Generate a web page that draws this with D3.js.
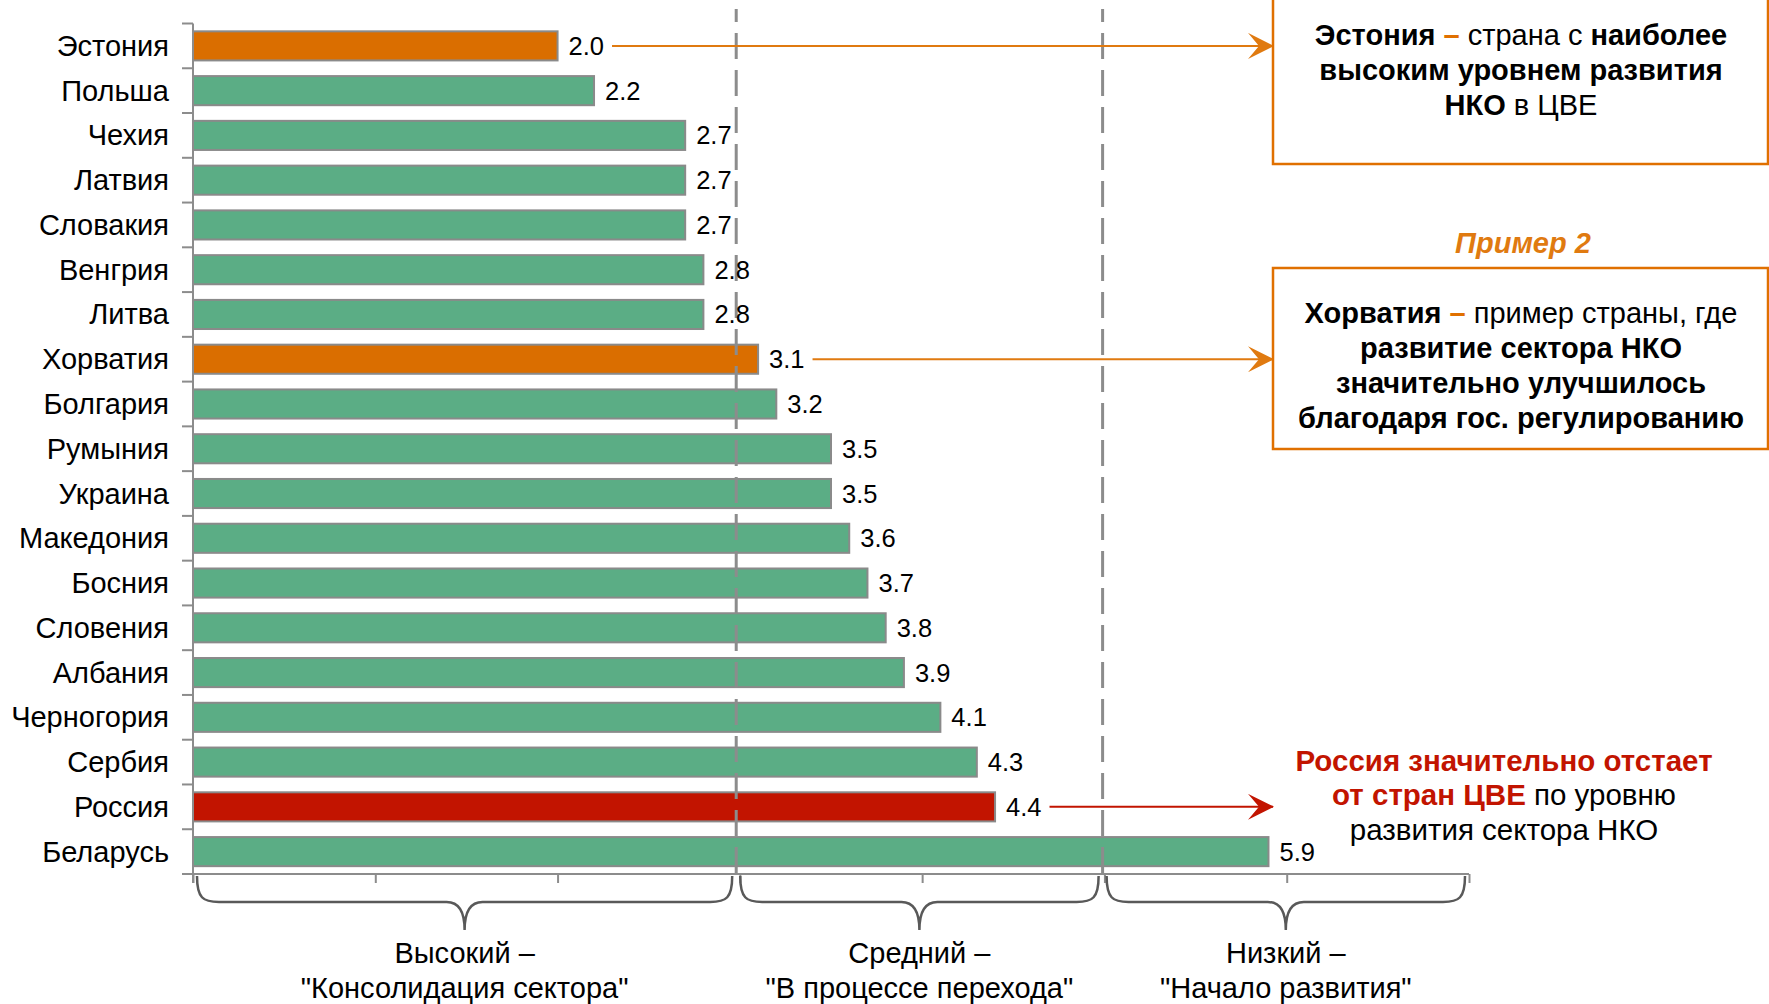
<!DOCTYPE html>
<html><head><meta charset="utf-8">
<script src="https://cdn.jsdelivr.net/npm/d3@7"></script>
<style>
html,body{margin:0;padding:0;background:#fff;}
svg{display:block;font-family:"Liberation Sans",Arial,sans-serif;}
</style></head>
<body>
<svg id="chart" width="1769" height="1004"></svg>
<script>
// ---- data ----
const countries = ["Эстония","Польша","Чехия","Латвия","Словакия","Венгрия","Литва","Хорватия","Болгария","Румыния","Украина","Македония","Босния","Словения","Албания","Черногория","Сербия","Россия","Беларусь"];
const values = [2.0,2.2,2.7,2.7,2.7,2.8,2.8,3.1,3.2,3.5,3.5,3.6,3.7,3.8,3.9,4.1,4.3,4.4,5.9];
const highlightOrange = ["Эстония","Хорватия"];
const highlightRed = ["Россия"];
const xTicks = [0,1,2,3,4,5,6,7];
const thresholds = [2.98,4.99];
const groupStart = [0,2.98,4.99];
const groupEnd = [2.98,4.99,7];
const groupLine1 = ["Высокий –","Средний –","Низкий –"];
const groupLine2 = ['"Консолидация сектора"','"В процессе перехода"','"Начало развития"'];

const GREEN = "#5bad85", ORANGE = "#da6e00", RED = "#c21400", GRAY = "#8c8c8c", TXTOR = "#e07a10";

const svg = d3.select("#chart");
const x = d3.scaleLinear().domain([0,7]).range([193,1469]);
const y = d3.scaleBand().domain(countries).range([23.5,874]).paddingInner(0.35).paddingOuter(0.175);
const step = y.step();

const defs = svg.append("defs");
function marker(id, color){
  defs.append("marker").attr("id",id).attr("viewBox","0 0 26 26").attr("refX",25).attr("refY",13)
    .attr("markerWidth",26).attr("markerHeight",26).attr("markerUnits","userSpaceOnUse").attr("orient","auto")
    .append("path").attr("d","M0,0 L26,13 L0,26 L11,13 Z").attr("fill",color);
}
marker("arrO", TXTOR); marker("arrR", RED);

// bars
const color = c => highlightRed.includes(c) ? RED : highlightOrange.includes(c) ? ORANGE : GREEN;
svg.selectAll(".bar").data(countries).join("rect")
  .attr("x",x(0)).attr("y",d=>y(d)).attr("height",y.bandwidth())
  .attr("width",(d,i)=>x(values[i])-x(0))
  .attr("fill",d=>color(d)).attr("stroke","#8a8a8a").attr("stroke-width",2);

// threshold dashed lines (on top of bars)
svg.selectAll(".thr").data(thresholds).join("line")
  .attr("x1",d=>x(d)).attr("x2",d=>x(d)).attr("y1",9).attr("y2",874)
  .attr("stroke",GRAY).attr("stroke-width",3).attr("stroke-dasharray","26,11").attr("stroke-dashoffset",13);

// axes
const xAxis = d3.axisBottom(x).tickValues(xTicks).tickSize(9).tickFormat("");
const gx = svg.append("g").attr("transform","translate(0,874)").call(xAxis);
gx.select(".domain").remove();
gx.selectAll("line").attr("stroke",GRAY).attr("stroke-width",2);
svg.append("line").attr("x1",182).attr("x2",x(7)).attr("y1",874).attr("y2",874).attr("stroke",GRAY).attr("stroke-width",2);
svg.append("line").attr("x1",x(0)).attr("x2",x(0)).attr("y1",y.range()[0]).attr("y2",883).attr("stroke",GRAY).attr("stroke-width",2);
const bounds = d3.range(countries.length+1).map(i=>y.range()[0]+i*step);
svg.selectAll(".ytick").data(bounds).join("line")
  .attr("x1",182).attr("x2",x(0)).attr("y1",d=>d).attr("y2",d=>d).attr("stroke",GRAY).attr("stroke-width",2);

// category labels
svg.selectAll(".cat").data(countries).join("text")
  .attr("x",169).attr("y",d=>y(d)+y.bandwidth()/2+10).attr("text-anchor","end")
  .attr("font-size",29).attr("fill","#000").text(d=>d);

// value labels
const vl = svg.selectAll(".val").data(countries).join("text")
  .attr("x",(d,i)=>x(values[i])+11).attr("y",d=>y(d)+y.bandwidth()/2+9)
  .attr("font-size",25.5).attr("fill","#000").text((d,i)=>values[i].toFixed(1));
const labelEnd = {};
vl.each(function(d){ labelEnd[d] = +this.getAttribute("x") + this.getComputedTextLength(); });

// arrows
function arrow(country, col, mk){
  const yy = y(country)+y.bandwidth()/2;
  svg.append("line").attr("x1",labelEnd[country]+8).attr("x2",1273).attr("y1",yy).attr("y2",yy)
    .attr("stroke",col).attr("stroke-width",2).attr("marker-end",`url(#${mk})`);
}
arrow("Эстония",TXTOR,"arrO");
arrow("Хорватия",TXTOR,"arrO");
arrow("Россия",RED,"arrR");

// braces
const y0=876, y1=902, yt=930;
groupStart.forEach((s,i)=>{
  const a = x(s)+4, b = x(groupEnd[i])-4, m=(a+b)/2;
  const p = `M${a},${y0} C${a},${y1-4} ${a+6},${y1} ${a+22},${y1} L${m-18},${y1} Q${m},${y1} ${m},${yt} Q${m},${y1} ${m+18},${y1} L${b-22},${y1} C${b-6},${y1} ${b},${y1-4} ${b},${y0}`;
  svg.append("path").attr("d",p).attr("fill","none").attr("stroke","#595959").attr("stroke-width",2.5);
  svg.append("text").attr("x",m).attr("y",963).attr("text-anchor","middle").attr("font-size",29).text(groupLine1[i]);
  svg.append("text").attr("x",m).attr("y",998).attr("text-anchor","middle").attr("font-size",29).text(groupLine2[i]);
});

// annotation boxes
svg.append("rect").attr("x",1273).attr("y",-10).attr("width",495).attr("height",174)
  .attr("fill","none").attr("stroke","#e07000").attr("stroke-width",2.5);
svg.append("rect").attr("x",1273).attr("y",268).attr("width",495).attr("height",181)
  .attr("fill","none").attr("stroke","#e07000").attr("stroke-width",2.5);

function richLine(cx, by, parts, size){
  const t = svg.append("text").attr("x",cx).attr("y",by).attr("text-anchor","middle").attr("font-size",size);
  parts.forEach(p=>{
    t.append("tspan").attr("font-weight",p.b?"bold":"normal").attr("font-style",p.i?"italic":"normal")
     .attr("fill",p.c||"#000").text(p.t);
  });
}
const bx = 1521, FS = 29;
richLine(bx,45,[{t:"Эстония ",b:1},{t:"–",b:1,c:"#e07000"},{t:" страна с "},{t:"наиболее",b:1}],FS);
richLine(bx,80,[{t:"высоким уровнем развития",b:1}],FS);
richLine(bx,115,[{t:"НКО",b:1},{t:" в ЦВЕ"}],FS);
richLine(1523,253,[{t:"Пример 2",b:1,i:1,c:TXTOR}],FS);
richLine(bx,323,[{t:"Хорватия ",b:1},{t:"–",b:1,c:"#e07000"},{t:" пример страны, где"}],FS);
richLine(bx,358,[{t:"развитие сектора НКО",b:1}],FS);
richLine(bx,393,[{t:"значительно улучшилось",b:1}],FS);
richLine(bx,428,[{t:"благодаря гос. регулированию",b:1}],FS);
richLine(1504,771,[{t:"Россия значительно отстает",b:1,c:RED}],29.5);
richLine(1504,805,[{t:"от стран ЦВЕ",b:1,c:RED},{t:" по уровню"}],29.5);
richLine(1504,840,[{t:"развития сектора НКО"}],29.5);
</script>
</body></html>
